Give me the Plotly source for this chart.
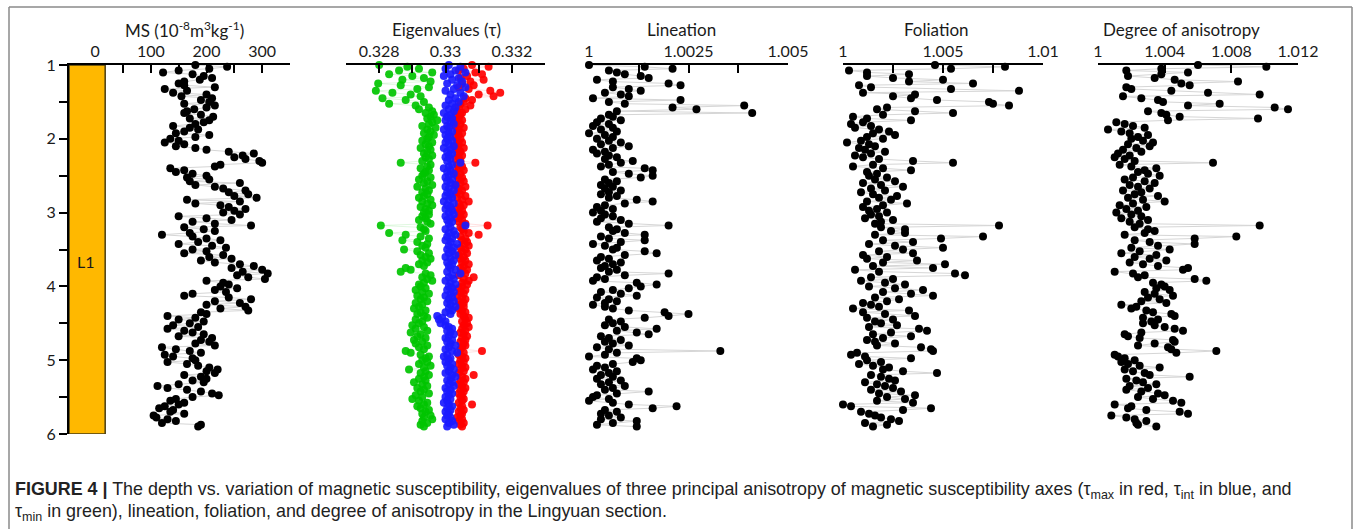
import plotly.graph_objects as go

# ---------------- data ----------------
DEPTH = [
    1.000, 1.025, 1.050, 1.075, 1.100, 1.125, 1.150, 1.175, 1.200, 1.225,
    1.250, 1.275, 1.300, 1.325, 1.350, 1.375, 1.400, 1.425, 1.450, 1.475,
    1.500, 1.525, 1.550, 1.575, 1.600, 1.625, 1.650, 1.675, 1.700, 1.725,
    1.750, 1.775, 1.800, 1.825, 1.850, 1.875, 1.900, 1.925, 1.950, 1.975,
    2.000, 2.025, 2.050, 2.075, 2.100, 2.125, 2.150, 2.175, 2.200, 2.225,
    2.250, 2.275, 2.300, 2.325, 2.350, 2.375, 2.400, 2.425, 2.450, 2.475,
    2.500, 2.525, 2.550, 2.575, 2.600, 2.625, 2.650, 2.675, 2.700, 2.725,
    2.750, 2.775, 2.800, 2.825, 2.850, 2.875, 2.900, 2.925, 2.950, 2.975,
    3.000, 3.025, 3.050, 3.075, 3.100, 3.125, 3.150, 3.175, 3.200, 3.225,
    3.250, 3.275, 3.300, 3.325, 3.350, 3.375, 3.400, 3.425, 3.450, 3.475,
    3.500, 3.525, 3.550, 3.575, 3.600, 3.625, 3.650, 3.675, 3.700, 3.725,
    3.750, 3.775, 3.800, 3.825, 3.850, 3.875, 3.900, 3.925, 3.950, 3.975,
    4.000, 4.025, 4.050, 4.075, 4.100, 4.125, 4.150, 4.175, 4.200, 4.225,
    4.250, 4.275, 4.300, 4.325, 4.350, 4.375, 4.400, 4.425, 4.450, 4.475,
    4.500, 4.525, 4.550, 4.575, 4.600, 4.625, 4.650, 4.675, 4.700, 4.725,
    4.750, 4.775, 4.800, 4.825, 4.850, 4.875, 4.900, 4.925, 4.950, 4.975,
    5.000, 5.025, 5.050, 5.075, 5.100, 5.125, 5.150, 5.175, 5.200, 5.225,
    5.250, 5.275, 5.300, 5.325, 5.350, 5.375, 5.400, 5.425, 5.450, 5.475,
    5.500, 5.525, 5.550, 5.575, 5.600, 5.625, 5.650, 5.675, 5.700, 5.725,
    5.750, 5.775, 5.800, 5.825, 5.850, 5.875, 5.900,
]

MS = [
    180, 237, 205, 150, 122, 175, 195, 210, 188, 160,
    150, 160, 215, 125, 165, 140, 200, 155, 210, 190,
    205, 160, 215, 200, 178, 165, 160, 190, 212, 170,
    205, 195, 180, 140, 170, 185, 160, 145, 205, 180,
    135, 150, 125, 160, 145, 180, 200, 240, 285, 265,
    250, 270, 295, 300, 225, 215, 135, 160, 145, 175,
    200, 165, 205, 170, 260, 180, 215, 230, 270, 240,
    275, 250, 290, 165, 260, 180, 225, 240, 270, 250,
    230, 260, 150, 200, 245, 175, 215, 280, 160, 195,
    215, 170, 120, 175, 200, 225, 185, 150, 210, 235,
    175, 200, 160, 230, 205, 245, 190, 215, 260, 285,
    245, 300, 265, 310, 255, 275, 305, 200, 230, 240,
    225, 255, 215, 235, 175, 160, 240, 280, 215, 260,
    200, 270, 225, 275, 190, 200, 130, 180, 150, 195,
    170, 140, 185, 130, 160, 175, 195, 150, 210, 190,
    205, 180, 215, 120, 145, 170, 190, 125, 140, 175,
    180, 130, 165, 185, 205, 220, 200, 215, 160, 190,
    200, 175, 195, 150, 112, 130, 165, 190, 210, 222,
    175, 145, 135, 160, 150, 125, 115, 140, 135, 160,
    105, 110, 130, 145, 120, 190, 185,
]

TAU_MIN = [
    0.32800, 0.32885, 0.32920, 0.32860, 0.32960, 0.32830, 0.32900, 0.32935, 0.32870, 0.32955,
    0.32797, 0.32865, 0.32950, 0.32915, 0.32790, 0.32840, 0.32895, 0.32925, 0.32810, 0.32880,
    0.32935, 0.32830, 0.32910, 0.32950, 0.32920, 0.32960, 0.32940, 0.32965, 0.32955, 0.32945,
    0.32975, 0.32960, 0.32950, 0.32930, 0.32970, 0.32945, 0.32955, 0.32935, 0.32965, 0.32950,
    0.32945, 0.32930, 0.32960, 0.32940, 0.32950, 0.32925, 0.32955, 0.32945, 0.32935, 0.32960,
    0.32940, 0.32950, 0.32930, 0.32865, 0.32955, 0.32945, 0.32925, 0.32950, 0.32940, 0.32935,
    0.32930, 0.32955, 0.32920, 0.32945, 0.32935, 0.32960, 0.32915, 0.32940, 0.32950, 0.32930,
    0.32945, 0.32935, 0.32920, 0.32955, 0.32930, 0.32945, 0.32960, 0.32925, 0.32940, 0.32950,
    0.32935, 0.32950, 0.32930, 0.32940, 0.32920, 0.32945, 0.32955, 0.32805, 0.32925, 0.32935,
    0.32940, 0.32830, 0.32880, 0.32925, 0.32950, 0.32870, 0.32915, 0.32945, 0.32930, 0.32940,
    0.32875, 0.32915, 0.32950, 0.32925, 0.32940, 0.32955, 0.32930, 0.32945, 0.32920, 0.32935,
    0.32880, 0.32895, 0.32865, 0.32940, 0.32955, 0.32930, 0.32945, 0.32960, 0.32935, 0.32920,
    0.32925, 0.32940, 0.32910, 0.32930, 0.32950, 0.32915, 0.32935, 0.32925, 0.32945, 0.32910,
    0.32930, 0.32920, 0.32905, 0.32940, 0.32925, 0.32915, 0.32935, 0.32945, 0.32910, 0.32930,
    0.32920, 0.32900, 0.32935, 0.32910, 0.32945, 0.32895, 0.32925, 0.32915, 0.32940, 0.32905,
    0.32930, 0.32910, 0.32945, 0.32920, 0.32935, 0.32880, 0.32895, 0.32925, 0.32950, 0.32940,
    0.32930, 0.32945, 0.32920, 0.32955, 0.32935, 0.32890, 0.32940, 0.32925, 0.32950, 0.32935,
    0.32920, 0.32940, 0.32905, 0.32930, 0.32945, 0.32915, 0.32935, 0.32925, 0.32950, 0.32910,
    0.32930, 0.32900, 0.32920, 0.32945, 0.32935, 0.32915, 0.32925, 0.32950, 0.32940, 0.32930,
    0.32955, 0.32935, 0.32960, 0.32930, 0.32945, 0.32925, 0.32935,
]

TAU_INT = [
    0.33010, 0.33045, 0.33000, 0.33030, 0.33060, 0.33015, 0.32995, 0.33040, 0.33020, 0.33050,
    0.33005, 0.33035, 0.33060, 0.33025, 0.33000, 0.33045, 0.33015, 0.33055, 0.33030, 0.33010,
    0.33040, 0.33020, 0.33000, 0.33030, 0.33010, 0.33025, 0.32995, 0.33015, 0.33005, 0.33020,
    0.33000, 0.33015, 0.33025, 0.33005, 0.33010, 0.32995, 0.33020, 0.33010, 0.33000, 0.33015,
    0.33005, 0.33020, 0.33000, 0.33010, 0.33025, 0.32995, 0.33015, 0.33005, 0.33020, 0.33010,
    0.33000, 0.33015, 0.33005, 0.33045, 0.33020, 0.33010, 0.32995, 0.33015, 0.33005, 0.33025,
    0.33010, 0.33000, 0.33020, 0.33005, 0.33015, 0.33030, 0.33000, 0.33010, 0.33025, 0.33005,
    0.33015, 0.33000, 0.33020, 0.33010, 0.32995, 0.33025, 0.33005, 0.33015, 0.33000, 0.33020,
    0.33010, 0.33025, 0.33000, 0.33015, 0.33005, 0.33020, 0.33010, 0.33060, 0.33015, 0.33000,
    0.33025, 0.33010, 0.33030, 0.33005, 0.33020, 0.33000, 0.33015, 0.33035, 0.33010, 0.33025,
    0.33005, 0.33020, 0.33010, 0.33030, 0.33000, 0.33015, 0.33025, 0.33005, 0.33020, 0.33010,
    0.33015, 0.33030, 0.33005, 0.33045, 0.33020, 0.33010, 0.33025, 0.33000, 0.33015, 0.33030,
    0.33010, 0.33020, 0.33005, 0.33025, 0.33015, 0.33000, 0.33020, 0.33010, 0.33025, 0.33005,
    0.33015, 0.33030, 0.33010, 0.33020, 0.33000, 0.33015, 0.32975, 0.32990, 0.32980, 0.33000,
    0.32985, 0.33000, 0.33010, 0.33020, 0.33005, 0.33015, 0.33025, 0.33010, 0.33000, 0.33020,
    0.33005, 0.33015, 0.33030, 0.33010, 0.33000, 0.33020, 0.33035, 0.33005, 0.32995, 0.33015,
    0.33010, 0.33000, 0.33020, 0.33005, 0.33015, 0.33025, 0.33010, 0.33000, 0.33020, 0.33030,
    0.33015, 0.33005, 0.33020, 0.33010, 0.33025, 0.33000, 0.33015, 0.33005, 0.33020, 0.33010,
    0.33000, 0.33015, 0.33005, 0.32995, 0.33010, 0.33020, 0.33005, 0.33015, 0.33000, 0.33010,
    0.33005, 0.33015, 0.33000, 0.33020, 0.33010, 0.33025, 0.33005,
]

TAU_MAX = [
    0.33080, 0.33130, 0.33055, 0.33040, 0.33090, 0.33110, 0.33065, 0.33045, 0.33115, 0.33075,
    0.33050, 0.33085, 0.33040, 0.33070, 0.33135, 0.33165, 0.33100, 0.33145, 0.33060, 0.33080,
    0.33055, 0.33045, 0.33075, 0.33040, 0.33060, 0.33035, 0.33050, 0.33045, 0.33030, 0.33040,
    0.33050, 0.33035, 0.33045, 0.33030, 0.33055, 0.33040, 0.33035, 0.33050, 0.33040, 0.33030,
    0.33045, 0.33035, 0.33050, 0.33040, 0.33030, 0.33055, 0.33040, 0.33045, 0.33035, 0.33050,
    0.33040, 0.33030, 0.33045, 0.33090, 0.33035, 0.33050, 0.33040, 0.33055, 0.33030, 0.33045,
    0.33035, 0.33050, 0.33040, 0.33055, 0.33045, 0.33030, 0.33060, 0.33040, 0.33050, 0.33035,
    0.33045, 0.33060, 0.33035, 0.33050, 0.33070, 0.33040, 0.33055, 0.33045, 0.33035, 0.33050,
    0.33040, 0.33055, 0.33045, 0.33035, 0.33050, 0.33040, 0.33060, 0.33127, 0.33045, 0.33050,
    0.33055, 0.33070, 0.33100, 0.33045, 0.33060, 0.33050, 0.33065, 0.33055, 0.33070, 0.33045,
    0.33060, 0.33050, 0.33065, 0.33040, 0.33055, 0.33045, 0.33060, 0.33050, 0.33070, 0.33055,
    0.33045, 0.33065, 0.33050, 0.33060, 0.33040, 0.33085, 0.33055, 0.33070, 0.33050, 0.33065,
    0.33050, 0.33040, 0.33060, 0.33045, 0.33055, 0.33035, 0.33050, 0.33060, 0.33040, 0.33055,
    0.33045, 0.33055, 0.33040, 0.33050, 0.33060, 0.33045, 0.33055, 0.33070, 0.33060, 0.33050,
    0.33065, 0.33055, 0.33070, 0.33050, 0.33060, 0.33045, 0.33055, 0.33065, 0.33050, 0.33060,
    0.33045, 0.33055, 0.33060, 0.33050, 0.33045, 0.33110, 0.33055, 0.33040, 0.33050, 0.33060,
    0.33045, 0.33055, 0.33040, 0.33050, 0.33060, 0.33045, 0.33055, 0.33040, 0.33085, 0.33050,
    0.33060, 0.33045, 0.33055, 0.33040, 0.33050, 0.33060, 0.33045, 0.33055, 0.33040, 0.33050,
    0.33045, 0.33055, 0.33050, 0.33040, 0.33080, 0.33050, 0.33045, 0.33055, 0.33040, 0.33050,
    0.33045, 0.33035, 0.33050, 0.33040, 0.33055, 0.33045, 0.33050,
]

LINEATION = [
    1.0000, 1.0014, 1.0021, 1.0005, 1.0007, 1.0009, 1.0013, 1.0015, 1.0002, 1.0006,
    1.0020, 1.0023, 1.0006, 1.0010, 1.0013, 1.0004, 1.0008, 1.0010, 1.0001, 1.0023,
    1.0005, 1.0009, 1.0039, 1.0021, 1.0027, 1.0007, 1.0041, 1.0005, 1.0006, 1.0003,
    1.0008, 1.0002, 1.0005, 1.0001, 1.0006, 1.0003, 1.0007, 1.0000, 1.0004, 1.0006,
    1.0002, 1.0005, 1.0008, 1.0003, 1.0010, 1.0006, 1.0001, 1.0004, 1.0002, 1.0005,
    1.0007, 1.0004, 1.0011, 1.0008, 1.0005, 1.0003, 1.0014, 1.0016, 1.0006, 1.0010,
    1.0016, 1.0013, 1.0004, 1.0007, 1.0005, 1.0003, 1.0006, 1.0004, 1.0008, 1.0005,
    1.0003, 1.0007, 1.0005, 1.0012, 1.0016, 1.0009, 1.0004, 1.0002, 1.0006, 1.0003,
    1.0001, 1.0004, 1.0006, 1.0003, 1.0008, 1.0002, 1.0010, 1.0020, 1.0005, 1.0007,
    1.0006, 1.0009, 1.0014, 1.0003, 1.0005, 1.0014, 1.0008, 1.0001, 1.0004, 1.0007,
    1.0006, 1.0014, 1.0017, 1.0009, 1.0003, 1.0005, 1.0002, 1.0008, 1.0006, 1.0004,
    1.0003, 1.0007, 1.0005, 1.0020, 1.0009, 1.0002, 1.0004, 1.0001, 1.0012, 1.0017,
    1.0013, 1.0010, 1.0006, 1.0003, 1.0008, 1.0012, 1.0002, 1.0005, 1.0007, 1.0004,
    1.0001, 1.0004, 1.0006, 1.0010, 1.0019, 1.0025, 1.0020, 1.0014, 1.0005, 1.0008,
    1.0006, 1.0004, 1.0009, 1.0017, 1.0007, 1.0012, 1.0015, 1.0003, 1.0005, 1.0008,
    1.0004, 1.0006, 1.0010, 1.0002, 1.0005, 1.0033, 1.0007, 1.0004, 1.0000, 1.0012,
    1.0013, 1.0011, 1.0006, 1.0002, 1.0004, 1.0001, 1.0007, 1.0005, 1.0003, 1.0006,
    1.0002, 1.0008, 1.0005, 1.0003, 1.0009, 1.0006, 1.0004, 1.0015, 1.0007, 1.0002,
    1.0001, 1.0005, 1.0000, 1.0006, 1.0010, 1.0022, 1.0016, 1.0004, 1.0007, 1.0003,
    1.0005, 1.0008, 1.0003, 1.0012, 1.0006, 1.0002, 1.0012,
]

FOLIATION = [
    1.0046, 1.0081, 1.0054, 1.0003, 1.0012, 1.0033, 1.0012, 1.0025, 1.0050, 1.0033,
    1.0065, 1.0008, 1.0014, 1.0054, 1.0088, 1.0010, 1.0036, 1.0025, 1.0034, 1.0047,
    1.0073, 1.0075, 1.0083, 1.0022, 1.0017, 1.0036, 1.0055, 1.0020, 1.0005, 1.0012,
    1.0034, 1.0010, 1.0004, 1.0014, 1.0006, 1.0018, 1.0023, 1.0015, 1.0026, 1.0012,
    1.0020, 1.0009, 1.0002, 1.0013, 1.0016, 1.0008, 1.0011, 1.0021, 1.0014, 1.0006,
    1.0010, 1.0018, 1.0035, 1.0055, 1.0015, 1.0005, 1.0020, 1.0034, 1.0012, 1.0017,
    1.0013, 1.0022, 1.0016, 1.0026, 1.0010, 1.0019, 1.0030, 1.0014, 1.0021, 1.0009,
    1.0015, 1.0027, 1.0018, 1.0024, 1.0012, 1.0032, 1.0020, 1.0010, 1.0017, 1.0013,
    1.0022, 1.0014, 1.0018, 1.0011, 1.0025, 1.0019, 1.0016, 1.0078, 1.0019, 1.0031,
    1.0024, 1.0031, 1.0016, 1.0070, 1.0049, 1.0020, 1.0035, 1.0013, 1.0026, 1.0050,
    1.0030, 1.0018, 1.0035, 1.0010, 1.0022, 1.0012, 1.0037, 1.0020, 1.0051, 1.0015,
    1.0045, 1.0006, 1.0018, 1.0056, 1.0061, 1.0014, 1.0025, 1.0009, 1.0021, 1.0031,
    1.0013, 1.0026, 1.0040, 1.0020, 1.0034, 1.0045, 1.0016, 1.0028, 1.0022, 1.0010,
    1.0014, 1.0018, 1.0005, 1.0033, 1.0010, 1.0021, 1.0036, 1.0012, 1.0025, 1.0016,
    1.0019, 1.0027, 1.0013, 1.0038, 1.0042, 1.0024, 1.0015, 1.0034, 1.0020, 1.0012,
    1.0016, 1.0026, 1.0017, 1.0039, 1.0044, 1.0045, 1.0007, 1.0004, 1.0011, 1.0034,
    1.0012, 1.0019, 1.0008, 1.0015, 1.0023, 1.0020, 1.0030, 1.0047, 1.0014, 1.0019,
    1.0023, 1.0026, 1.0011, 1.0017, 1.0021, 1.0025, 1.0014, 1.0029, 1.0018, 1.0036,
    1.0022, 1.0031, 1.0017, 1.0035, 1.0000, 1.0004, 1.0044, 1.0030, 1.0009, 1.0013,
    1.0016, 1.0019, 1.0024, 1.0028, 1.0011, 1.0022, 1.0015,
]

ANISOTROPY = [
    1.0060, 1.0101, 1.0038, 1.0017, 1.0054, 1.0038, 1.0018, 1.0034, 1.0046, 1.0084,
    1.0050, 1.0055, 1.0017, 1.0020, 1.0044, 1.0066, 1.0097, 1.0015, 1.0026, 1.0036,
    1.0039, 1.0073, 1.0054, 1.0106, 1.0114, 1.0030, 1.0038, 1.0041, 1.0049, 1.0096,
    1.0042, 1.0011, 1.0016, 1.0021, 1.0028, 1.0006, 1.0014, 1.0019, 1.0030, 1.0024,
    1.0020, 1.0027, 1.0033, 1.0018, 1.0031, 1.0023, 1.0015, 1.0026, 1.0012, 1.0019,
    1.0010, 1.0016, 1.0022, 1.0069, 1.0013, 1.0020, 1.0035, 1.0028, 1.0024, 1.0030,
    1.0037, 1.0021, 1.0016, 1.0028, 1.0034, 1.0019, 1.0024, 1.0031, 1.0015, 1.0026,
    1.0022, 1.0036, 1.0018, 1.0027, 1.0040, 1.0021, 1.0013, 1.0029, 1.0017, 1.0024,
    1.0011, 1.0020, 1.0026, 1.0014, 1.0030, 1.0019, 1.0025, 1.0097, 1.0022, 1.0030,
    1.0034, 1.0028, 1.0016, 1.0083, 1.0058, 1.0022, 1.0031, 1.0058, 1.0036, 1.0020,
    1.0043, 1.0025, 1.0014, 1.0035, 1.0022, 1.0031, 1.0041, 1.0019, 1.0027, 1.0036,
    1.0054, 1.0051, 1.0010, 1.0021, 1.0028, 1.0024, 1.0058, 1.0065, 1.0033, 1.0038,
    1.0040, 1.0035, 1.0043, 1.0028, 1.0034, 1.0045, 1.0030, 1.0037, 1.0026, 1.0041,
    1.0014, 1.0023, 1.0020, 1.0029, 1.0033, 1.0044, 1.0046, 1.0027, 1.0036, 1.0032,
    1.0027, 1.0034, 1.0040, 1.0046, 1.0051, 1.0026, 1.0016, 1.0018, 1.0025, 1.0045,
    1.0046, 1.0034, 1.0024, 1.0042, 1.0044, 1.0071, 1.0047, 1.0010, 1.0012, 1.0016,
    1.0022, 1.0014, 1.0018, 1.0025, 1.0037, 1.0016, 1.0021, 1.0028, 1.0031, 1.0055,
    1.0017, 1.0023, 1.0027, 1.0035, 1.0019, 1.0030, 1.0017, 1.0026, 1.0036, 1.0040,
    1.0024, 1.0033, 1.0045, 1.0050, 1.0010, 1.0020, 1.0018, 1.0029, 1.0049, 1.0054,
    1.0008, 1.0017, 1.0022, 1.0029, 1.0023, 1.0024, 1.0035,
]

# axis ticks / labels
DEPTH_TICKS = [1, 1.5, 2, 2.5, 3, 3.5, 4, 4.5, 5, 5.5, 6]
DEPTH_LABELS = ["1", "", "2", "", "3", "", "4", "", "5", "", "6"]
MS_TICKS = [0, 50, 100, 150, 200, 250, 300, 350]
MS_LABELS = ["0", "", "100", "", "200", "", "300", ""]
EIG_TICKS = [0.327, 0.328, 0.329, 0.330, 0.331, 0.332, 0.333]
EIG_LABELS = ["", "0.328", "", "0.33", "", "0.332", ""]
LIN_TICKS = [1.0, 1.00125, 1.0025, 1.00375, 1.005]
LIN_LABELS = ["1", "", "1.0025", "", "1.005"]
FOL_TICKS = [1.0, 1.0025, 1.005, 1.0075, 1.01]
FOL_LABELS = ["1", "", "1.005", "", "1.01"]
ANI_TICKS = [1.0, 1.004, 1.008, 1.012]
ANI_LABELS = ["1", "1.004", "1.008", "1.012"]

UNIT_NAME = "L1"
UNIT_TOP, UNIT_BOTTOM = 1, 6

for s in (MS, TAU_MIN, TAU_INT, TAU_MAX, LINEATION, FOLIATION, ANISOTROPY):
    assert len(s) == len(DEPTH), len(s)

# ---------------- layout helpers ----------------
W, H = 1355, 529


def px(x):
    return x / W


def py(y):
    return 1 - y / H


FONT = "Lato"
Y_TOP, Y_BOT = 65, 434

fig = go.Figure()

LINE_GREY = "#d6d6d6"


def add_black(xs, axis):
    fig.add_trace(go.Scatter(
        x=xs, y=DEPTH, mode="lines+markers", xaxis=axis, yaxis="y",
        line=dict(color=LINE_GREY, width=1),
        marker=dict(color="black", size=8),
        cliponaxis=False, hoverinfo="x+y",
    ))


add_black(MS, "x")

for vals, col, lcol in [
    (TAU_MIN, "#00c400", "rgba(0,196,0,0.12)"),
    (TAU_MAX, "#ff0000", "rgba(255,0,0,0.12)"),
    (TAU_INT, "#1a1aff", "rgba(26,26,255,0.12)"),
]:
    fig.add_trace(go.Scatter(
        x=vals, y=DEPTH, mode="lines+markers", xaxis="x2", yaxis="y",
        line=dict(color=lcol, width=1),
        marker=dict(color=col, size=8, opacity=0.92),
        cliponaxis=False,
    ))

add_black(LINEATION, "x3")
add_black(FOLIATION, "x4")
add_black(ANISOTROPY, "x5")

tickfont = dict(family=FONT, size=16, color="#1a1a1a")


def xaxis(dom, rng, tv, tt):
    return dict(
        domain=[px(dom[0]), px(dom[1])], range=rng, anchor="y", side="top",
        showline=True, linecolor="black", linewidth=2,
        ticks="inside", ticklen=8, tickwidth=2, tickcolor="black",
        tickvals=tv, ticktext=tt, tickfont=tickfont,
        showgrid=False, zeroline=False, fixedrange=True, automargin=False,
    )


fig.update_layout(
    template="none",
    width=W, height=H,
    margin=dict(l=0, r=0, t=0, b=0, pad=0),
    paper_bgcolor="white", plot_bgcolor="rgba(0,0,0,0)",
    showlegend=False,
    xaxis=xaxis((69, 290), [-47, 350], MS_TICKS, MS_LABELS),
    xaxis2=xaxis((346, 545), [0.327, 0.333], EIG_TICKS, EIG_LABELS),
    xaxis3=xaxis((589, 788), [1.0, 1.005], LIN_TICKS, LIN_LABELS),
    xaxis4=xaxis((843, 1043), [1.0, 1.01], FOL_TICKS, FOL_LABELS),
    xaxis5=xaxis((1098, 1298), [1.0, 1.012], ANI_TICKS, ANI_LABELS),
    yaxis=dict(
        domain=[py(Y_BOT), py(Y_TOP)], range=[6, 1], anchor="x",
        showline=True, linecolor="black", linewidth=2,
        ticks="outside", ticklen=8, tickwidth=2, tickcolor="black",
        tickvals=DEPTH_TICKS, ticktext=DEPTH_LABELS,
        tickfont=dict(family=FONT, size=16, color="#1a1a1a"),
        showgrid=False, zeroline=False, fixedrange=True, automargin=False,
    ),
)

# loess unit column
fig.add_shape(type="rect", xref="x", yref="y", x0=-47, x1=18,
              y0=UNIT_TOP, y1=UNIT_BOTTOM, fillcolor="#FFB800",
              line=dict(color="#4a3c10", width=1.5), layer="above")
fig.add_annotation(x=-16, y=3.66, xref="x", yref="y", text=UNIT_NAME,
                   showarrow=False, font=dict(family=FONT, size=16, color="#1a1a1a"))

# panel titles
titles = [
    (184, "MS (10<sup>-8</sup>m<sup>3</sup>kg<sup>-1</sup>)"),
    (446, "Eigenvalues (τ)"),
    (682, "Lineation"),
    (936, "Foliation"),
    (1181, "Degree of anisotropy"),
]
for xc, t in titles:
    fig.add_annotation(x=px(xc), y=py(30), xref="paper", yref="paper", text=t,
                       xanchor="center", yanchor="middle",
                       showarrow=False, font=dict(family=FONT, size=17, color="#1a1a1a"))

# figure frame
frame = dict(color="#8a8a8a", width=1.5)
fig.add_shape(type="line", xref="paper", yref="paper", x0=px(9), x1=px(1352),
              y0=py(7), y1=py(7), line=frame)
fig.add_shape(type="line", xref="paper", yref="paper", x0=px(9), x1=px(9),
              y0=py(7), y1=0, line=frame)
fig.add_shape(type="line", xref="paper", yref="paper", x0=px(1352), x1=px(1352),
              y0=py(7), y1=0, line=frame)

# caption
cap_font = dict(family="Liberation Sans", size=17.9, color="#222222")
fig.add_annotation(
    x=px(13), y=py(490), xref="paper", yref="paper", xanchor="left", yanchor="middle",
    showarrow=False, font=cap_font,
    text=("<b>FIGURE 4 |</b> The depth vs. variation of magnetic susceptibility, eigenvalues of three "
          "principal anisotropy of magnetic susceptibility axes (τ<sub>max</sub> in red, "
          "τ<sub>int</sub> in blue, and"),
)
fig.add_annotation(
    x=px(13), y=py(512), xref="paper", yref="paper", xanchor="left", yanchor="middle",
    showarrow=False, font=cap_font,
    text=("τ<sub>min</sub> in green), lineation, foliation, and degree of anisotropy "
          "in the Lingyuan section."),
)

fig.write_html("out.html", config={"displayModeBar": False},
               post_script="document.body.style.margin='0';")
